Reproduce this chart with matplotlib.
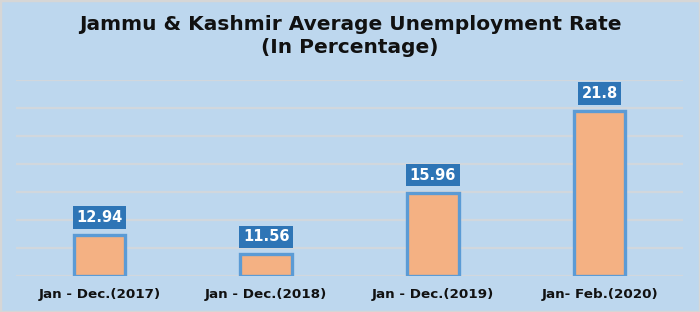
import matplotlib
matplotlib.use("Agg")
import matplotlib.pyplot as plt
from matplotlib.patches import Rectangle

categories = ["Jan - Dec.(2017)", "Jan - Dec.(2018)", "Jan - Dec.(2019)", "Jan- Feb.(2020)"]
values = [12.94, 11.56, 15.96, 21.8]
value_labels = ["12.94", "11.56", "15.96", "21.8"]

BG = "#bdd7ee"
fig = plt.figure(figsize=(7.0, 3.12), dpi=100, facecolor=BG)
fig.patches.append(Rectangle((0, 0), 1, 1, transform=fig.transFigure,
                             fill=False, edgecolor="#d6d6d6", linewidth=2.5))

ax = fig.add_axes([16/700, 36/312, 667/700, 196/312])
ax.set_facecolor(BG)
x = range(len(categories))
ax.bar(x, [v - 10 for v in values], bottom=10, width=0.31, color="#f4b183",
       edgecolor="#5b9bd5", linewidth=2.4, zorder=3)
ax.set_xlim(-0.5, len(categories) - 0.5)
ax.set_ylim(10, 24)
ax.set_yticks(range(10, 25, 2))
ax.yaxis.grid(True, color="#d1d7dd", linewidth=1.6, zorder=0)
ax.set_axisbelow(True)
ax.tick_params(axis="y", left=False, labelleft=False)
ax.tick_params(axis="x", length=0, pad=8.5)
ax.set_xticks(list(x))
ax.set_xticklabels(categories, fontsize=9.7, fontweight="bold", color="#111111")
for s in ax.spines.values():
    s.set_visible(False)

for xi, v, lab in zip(x, values, value_labels):
    ax.annotate(lab, (xi, v), xytext=(0, 7.0), textcoords="offset points",
                ha="center", va="bottom", fontsize=10.5, fontweight="bold",
                color="white", zorder=5,
                bbox=dict(boxstyle="square,pad=0.25", facecolor="#2e75b6",
                          edgecolor="none"))

fig.text(0.5, 1 - 36/312, "Jammu & Kashmir Average Unemployment Rate\n(In Percentage)",
         ha="center", va="center", fontsize=14.5, fontweight="bold",
         color="#111111", linespacing=1.3)

fig.savefig("out.png", dpi=100, facecolor=BG)
